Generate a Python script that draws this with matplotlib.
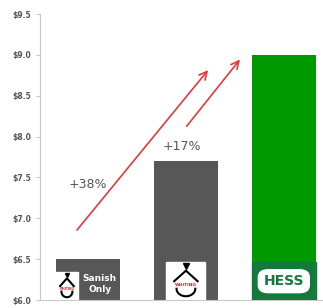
import matplotlib.pyplot as plt
from matplotlib.patches import Rectangle, FancyBboxPatch
from matplotlib.ticker import FormatStrFormatter
import numpy as np

# values per bar ($ per share-ish)
labels = ["Sanish Only", "Whiting", "Hess"]
values = [6.5, 7.7, 9.0]
colors = ["#575757", "#575757", "#009a00"]
growth = ["+38%", "+17%"]

fig = plt.figure(figsize=(3.23, 3.08), dpi=100)
ax = fig.add_axes([40 / 323, 8 / 308, 283 / 323, 286 / 308])

x = np.arange(len(values))
w = 0.65
ax.bar(x, values, width=w, color=colors, bottom=0, zorder=2)

ax.set_ylim(6.0, 9.5)
ax.set_xlim(-0.49, 2.4)
ax.set_yticks(np.arange(6.0, 9.51, 0.5))
ax.yaxis.set_major_formatter(FormatStrFormatter(r"\$%.1f"))
ax.set_xticks([])
for s in ["top", "right"]:
    ax.spines[s].set_visible(False)
ax.spines["left"].set_color("#c8c8c8")
ax.spines["bottom"].set_color("#c8c8c8")
ax.tick_params(axis="y", colors="#c8c8c8", labelcolor="#555555",
               labelsize=5.5, length=3, width=0.8)
for t in ax.get_yticklabels():
    t.set_fontweight("bold")

# growth arrows
red = "#e23a3a"
ax.annotate("", xy=(1.245, 8.84), xytext=(-0.13, 6.83),
            arrowprops=dict(arrowstyle="->", color=red, lw=1.2,
                            mutation_scale=14), zorder=3)
ax.annotate("", xy=(1.57, 8.97), xytext=(0.99, 8.1),
            arrowprops=dict(arrowstyle="->", color=red, lw=1.2,
                            mutation_scale=14), zorder=3)
ax.text(0.0, 7.41, growth[0], ha="center", va="center", fontsize=9,
        color="#555555")
ax.text(0.96, 7.88, growth[1], ha="center", va="center", fontsize=9,
        color="#555555")


def whiting_logo(cx, y0, sz, fs, h):
    # drop on top, arch, red word mark, smile underneath
    ax.plot([cx], [y0 + h * 0.9], marker="v", ms=fs * 1.3, color="black",
            zorder=5)
    ax.plot([cx - sz, cx, cx + sz], [y0 + h * 0.5, y0 + h * 0.78, y0 + h * 0.5],
            color="black", lw=1.5, zorder=5)
    t = np.linspace(np.pi, 2 * np.pi, 20)
    ax.plot(cx + sz * 0.8 * np.cos(t), y0 + h * 0.3 + h * 0.2 * np.sin(t),
            color="black", lw=1.5, zorder=5)
    ax.text(cx, y0 + h * 0.4, "WHITING", ha="center", va="center",
            fontsize=fs, color="#d0202a", fontweight="bold", zorder=6)


# bar 1 logo area
b0 = x[0] - w / 2
ax.add_patch(Rectangle((b0, 6.0), 0.22, 0.34, color="white", zorder=4))
whiting_logo(b0 + 0.11, 6.0, 0.07, 2.2, 0.34)
ax.text(x[0] + 0.12, 6.2, "Sanish\nOnly", ha="center", va="center",
        fontsize=6.5, color="white", fontweight="bold", zorder=6,
        linespacing=1.3)

# bar 2 logo area
ax.add_patch(Rectangle((x[1] - 0.2, 6.0), 0.4, 0.46, color="white", zorder=4))
whiting_logo(x[1], 6.0, 0.12, 3.2, 0.46)

# bar 3 logo area
ax.add_patch(Rectangle((x[2] - w / 2, 6.0), w, 0.46, color="#137a3c", zorder=4))
ax.add_patch(FancyBboxPatch((x[2] - 0.26, 6.09), 0.52, 0.28,
                            boxstyle="round,pad=0,rounding_size=0.1",
                            mutation_aspect=0.9, color="white", zorder=5))
ax.text(x[2], 6.23, "HESS", ha="center", va="center", fontsize=10,
        color="#137a3c", fontweight="bold", zorder=6)

fig.savefig("out.png", dpi=100)
